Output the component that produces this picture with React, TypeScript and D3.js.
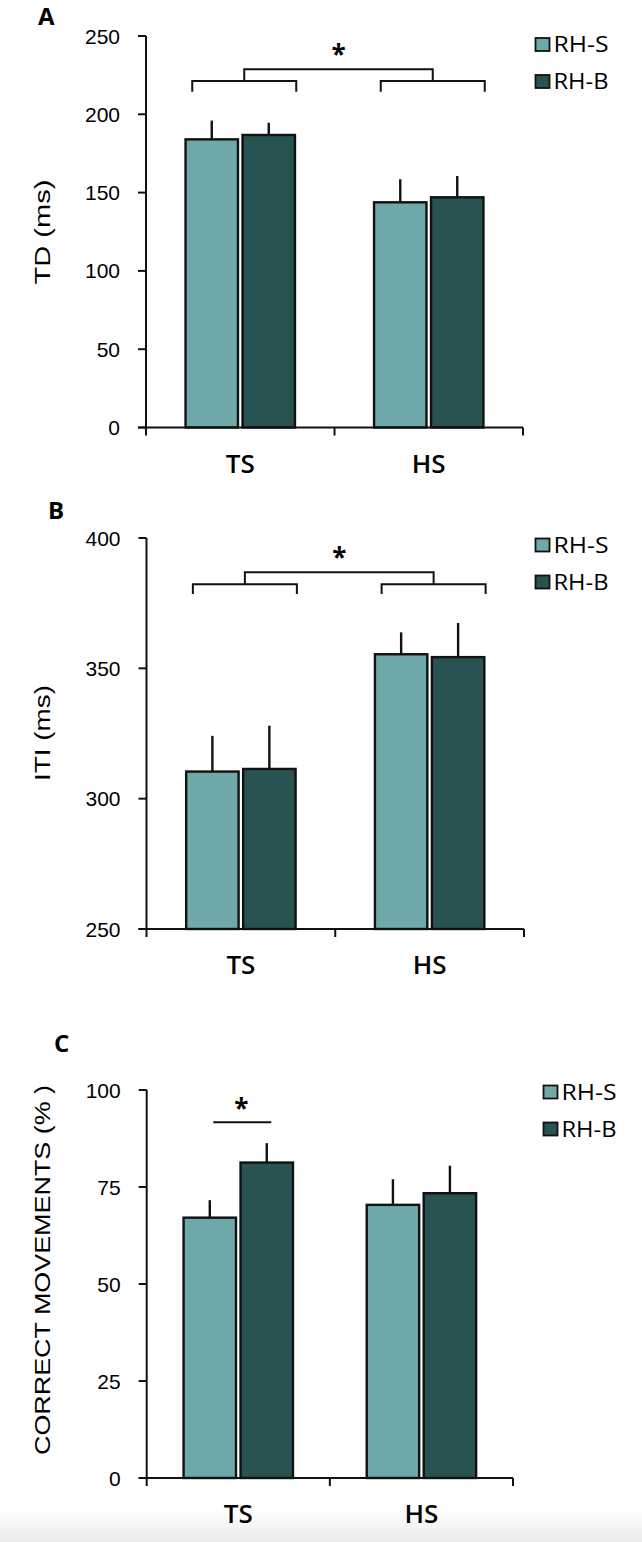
import React from "react";
import * as d3 from "d3";

// data
const categories = ["TS", "HS"];
const series = ["RH-S", "RH-B"];
const colors = ["#6fa8a8", "#285352"];

const tdMean = [
  [184, 143.8],
  [186.8, 147],
];
const tdErr = [
  [12, 14.7],
  [7.8, 13.6],
];
const tdTicks = [0, 50, 100, 150, 200, 250];

const itiMean = [
  [310.4, 355.4],
  [311.4, 354.3],
];
const itiErr = [
  [13.7, 8.4],
  [16.6, 13.1],
];
const itiTicks = [250, 300, 350, 400];

const cmMean = [
  [67.1, 70.4],
  [81.3, 73.4],
];
const cmErr = [
  [4.5, 6.6],
  [5, 7.1],
];
const cmTicks = [0, 25, 50, 75, 100];

// bracket levels (data units): legs bottom, group line, top line
const tdBracket = [214.4, 221.3, 228.7];
const itiBracket = [378.5, 382.3, 386.9];
const cmSigLine = 91.7;

type PanelProps = {
  letter: string;
  letterX: number;
  letterY: number;
  yLabel: string;
  yLabelLen: number;
  yLabelCenter: number;
  domain: [number, number];
  ticks: number[];
  left: number;
  right: number;
  top: number;
  bottom: number;
  mean: number[][];
  err: number[][];
  legendX: number;
  legendY: number;
  bracket?: number[];
  sigLine?: number;
};

const tickFont = "'Liberation Sans', Arial, sans-serif";
const labelFont = "'Open Sans', 'Noto Sans', sans-serif";

function Panel(p: PanelProps) {
  const y = d3.scaleLinear().domain(p.domain).range([p.bottom, p.top]);
  const x = d3.scaleBand().domain(categories).range([p.left, p.right]);
  const center = (c: string) => (x(c) as number) + x.bandwidth() / 2;
  const xs = d3.scaleBand().domain(series).range([-54.7, 54.7]).paddingInner(0.08);
  const bw = xs.bandwidth();

  const brk = p.bracket;
  const bx = (c: string) => center(c) + 4;

  return (
    <g>
      <text x={p.letterX} y={p.letterY} fontFamily={labelFont} fontWeight={700} fontSize={24}>
        {p.letter}
      </text>
      {/* y label */}
      <text
        transform={`translate(50,${p.yLabelCenter}) rotate(-90)`}
        textAnchor="middle"
        fontFamily={tickFont}
        fontSize={22}
        textLength={p.yLabelLen}
        lengthAdjust="spacingAndGlyphs"
      >
        {p.yLabel}
      </text>

      {/* bars */}
      {series.map((s, si) =>
        categories.map((c, ci) => {
          const x0 = center(c) + (xs(s) as number);
          const v = p.mean[si][ci];
          const e = p.err[si][ci];
          return (
            <g key={s + c}>
              <line
                x1={x0 + bw / 2}
                x2={x0 + bw / 2}
                y1={y(v)}
                y2={y(v + e)}
                stroke="#111"
                strokeWidth={2.4}
              />
              <rect
                x={x0}
                y={y(v)}
                width={bw}
                height={p.bottom - y(v)}
                fill={colors[si]}
                stroke="#111"
                strokeWidth={2.4}
              />
            </g>
          );
        })
      )}

      {/* axes */}
      <line x1={p.left} x2={p.left} y1={p.top} y2={p.bottom + 8} stroke="#111" strokeWidth={2} />
      <line x1={p.left - 8} x2={p.right} y1={p.bottom} y2={p.bottom} stroke="#111" strokeWidth={2} />
      {p.ticks.map((t) => (
        <g key={t}>
          <line x1={p.left - 8} x2={p.left} y1={y(t)} y2={y(t)} stroke="#111" strokeWidth={2} />
          <text
            x={p.left - 26}
            y={y(t)}
            dy="0.36em"
            textAnchor="end"
            fontFamily={tickFont}
            fontSize={21}
          >
            {t}
          </text>
        </g>
      ))}
      {categories.map((c) => (
        <g key={c}>
          <line
            x1={(x(c) as number) + x.bandwidth()}
            x2={(x(c) as number) + x.bandwidth()}
            y1={p.bottom}
            y2={p.bottom + 8}
            stroke="#111"
            strokeWidth={2}
          />
          <text
            x={center(c)}
            y={p.bottom + 45}
            textAnchor="middle"
            fontFamily={labelFont}
            fontWeight={600}
            fontSize={26}
          >
            {c}
          </text>
        </g>
      ))}

      {/* significance brackets */}
      {brk && (
        <g fill="none" stroke="#111" strokeWidth={2}>
          {categories.map((c) => (
            <path
              key={c}
              d={`M${bx(c) - 52},${y(brk[0])}V${y(brk[1])}H${bx(c) + 52}V${y(brk[0])}`}
            />
          ))}
          <path
            d={`M${bx(categories[0])},${y(brk[1])}V${y(brk[2])}H${bx(categories[1])}V${y(brk[1])}`}
          />
        </g>
      )}
      {brk && (
        <text
          x={(bx(categories[0]) + bx(categories[1])) / 2}
          y={y(brk[2]) - 5}
          textAnchor="middle"
          fontFamily={labelFont}
          fontWeight={700}
          fontSize={26}
        >
          *
        </text>
      )}
      {p.sigLine !== undefined && (
        <g>
          <line
            x1={center(categories[0]) - 25}
            x2={center(categories[0]) + 33}
            y1={y(p.sigLine)}
            y2={y(p.sigLine)}
            stroke="#111"
            strokeWidth={2}
          />
          <text
            x={center(categories[0]) + 3}
            y={y(p.sigLine) - 4}
            textAnchor="middle"
            fontFamily={labelFont}
            fontWeight={700}
            fontSize={26}
          >
            *
          </text>
        </g>
      )}

      {/* legend */}
      {series.map((s, si) => (
        <g key={s} transform={`translate(${p.legendX},${p.legendY + si * 37})`}>
          <rect x={0} y={0} width={14} height={13} fill={colors[si]} stroke="#111" strokeWidth={1.8} />
          <text
            x={18}
            y={14}
            fontFamily={labelFont}
            fontSize={21}
            textLength={55}
            lengthAdjust="spacingAndGlyphs"
          >
            {s}
          </text>
        </g>
      ))}
    </g>
  );
}

export default function App() {
  return (
    <svg
      width={642}
      height={1542}
      viewBox="0 0 642 1542"
      style={{ position: "absolute", left: 0, top: 0, background: "#fff" }}
    >
      <defs>
        <linearGradient id="fade" x1="0" y1="0" x2="0" y2="1">
          <stop offset="0" stopColor="#ffffff" />
          <stop offset="1" stopColor="#ebebeb" />
        </linearGradient>
      </defs>
      <rect x={0} y={1508} width={642} height={34} fill="url(#fade)" />
      <Panel
        letter="A"
        letterX={38}
        letterY={25}
        yLabel="TD (ms)"
        yLabelLen={105}
        yLabelCenter={232}
        domain={[0, 250]}
        ticks={tdTicks}
        left={146}
        right={523}
        top={36}
        bottom={427.5}
        mean={tdMean}
        err={tdErr}
        legendX={535.5}
        legendY={38}
        bracket={tdBracket}
      />
      <Panel
        letter="B"
        letterX={48}
        letterY={519}
        yLabel="ITI (ms)"
        yLabelLen={96}
        yLabelCenter={733}
        domain={[250, 400]}
        ticks={itiTicks}
        left={146.5}
        right={524}
        top={538}
        bottom={929}
        mean={itiMean}
        err={itiErr}
        legendX={535.5}
        legendY={538.5}
        bracket={itiBracket}
      />
      <Panel
        letter="C"
        letterX={54}
        letterY={1052}
        yLabel="CORRECT MOVEMENTS (% )"
        yLabelLen={370}
        yLabelCenter={1270}
        domain={[0, 100]}
        ticks={cmTicks}
        left={146.7}
        right={513}
        top={1090}
        bottom={1478}
        mean={cmMean}
        err={cmErr}
        legendX={543.5}
        legendY={1085.5}
        sigLine={cmSigLine}
      />
    </svg>
  );
}
